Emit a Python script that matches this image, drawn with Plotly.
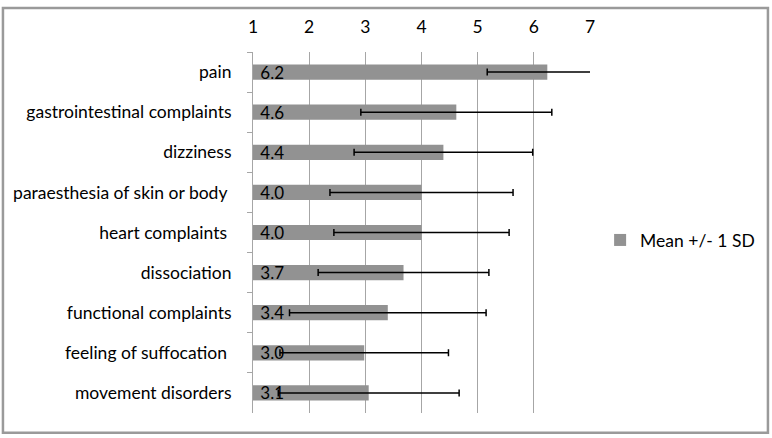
import plotly.graph_objects as go

# symptom categories, top to bottom
symptoms = ['pain', 'gastrointestinal complaints', 'dizziness',
            'paraesthesia of skin or body ', 'heart complaints ',
            'dissociation', 'functional complaints',
            'feeling of suffocation ', 'movement disorders']
means = [6.24, 4.62, 4.39, 4.0, 4.0, 3.68, 3.40, 2.98, 3.06]
sds = [1.07, 1.70, 1.59, 1.63, 1.56, 1.52, 1.75, 1.50, 1.61]
scale_ticks = [1, 2, 3, 4, 5, 6, 7]
scale_min = 1

font = 'Lato, Calibri, sans-serif'
grey = '#a6a6a6'
fsize = 17.5

fig = go.Figure()
fig.add_trace(go.Bar(
    y=symptoms,
    x=[m - scale_min for m in means],
    base=scale_min,
    orientation='h',
    name='Mean +/- 1 SD',
    width=0.38,
    marker=dict(color='#929292', line=dict(width=0)),
    text=['\u00a0' + f'{m:.1f}' for m in means],
    textposition='inside',
    insidetextanchor='start',
    constraintext='none',
    textfont=dict(family=font, size=17, color='black'),
    error_x=dict(type='data', array=sds, color='black', thickness=1.5, width=3.5),
    showlegend=True,
))

fig.update_layout(
    width=772, height=438,
    margin=dict(l=253, r=182, t=52, b=25),
    paper_bgcolor='white', plot_bgcolor='white',
    font=dict(family=font, size=fsize, color='black'),
    legend=dict(x=1.03, y=0.479, xanchor='left', yanchor='middle',
                font=dict(size=fsize), bgcolor='rgba(0,0,0,0)'),
    xaxis=dict(range=[1, 7], side='top', tickvals=scale_ticks,
               showgrid=True, gridcolor=grey, gridwidth=1,
               showline=False, zeroline=False, ticks='',
               ticklabelstandoff=15, tickfont=dict(size=fsize)),
    yaxis=dict(autorange='reversed', showline=True, linecolor=grey, linewidth=1,
               ticks='outside', ticklen=5, tickcolor=grey, tickson='boundaries',
               ticklabelstandoff=17, showgrid=False, tickfont=dict(size=fsize)),
    shapes=[dict(type='rect', xref='paper', yref='paper',
                 x0=-0.742, x1=1.528, y0=-0.055, y1=1.122,
                 line=dict(color='#9a9a9a', width=2.5), fillcolor='rgba(0,0,0,0)')],
)

fig.write_html('out.html', config={'displayModeBar': False},
               post_script="document.body.style.margin='0';")
